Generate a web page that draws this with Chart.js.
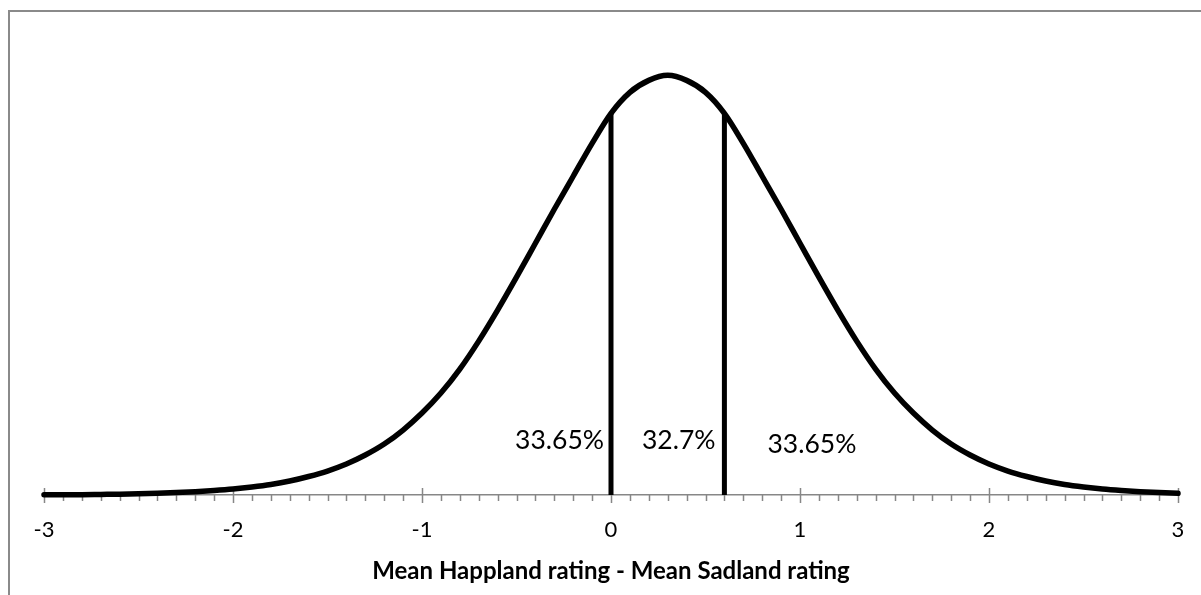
<!DOCTYPE html>
<html>
<head>
<meta charset="utf-8">
<script src="https://cdn.jsdelivr.net/npm/chart.js@4/dist/chart.umd.min.js"></script>
<style>
  html, body { margin: 0; padding: 0; background: #fff; overflow: hidden; }
  #wrap { position: relative; width: 1201px; height: 595px; }
  /* Excel style frame, only top and left edges show in the picture */
  #frame { position: absolute; left: 8px; top: 10px; width: 1300px; height: 700px;
           border-left: 2px solid #8a8a8a; border-top: 2px solid #8a8a8a; }
  canvas { position: absolute; left: 0; top: 0; }
</style>
</head>
<body>
<div id="wrap">
  <div id="frame"></div>
  <canvas id="myChart" width="1201" height="595"></canvas>
</div>
<script>
// x positions of the curve (difference in mean ratings)
var xValues = [-3.0, -2.9, -2.8, -2.7, -2.6, -2.5, -2.4, -2.3, -2.2, -2.1,
               -2.0, -1.9, -1.8, -1.7, -1.6, -1.5, -1.4, -1.3, -1.2, -1.1,
               -1.0, -0.9, -0.8, -0.7, -0.6, -0.5, -0.4, -0.3, -0.2, -0.1,
                0.0,  0.1,  0.2,  0.3,  0.4,  0.5,  0.6,  0.7,  0.8,  0.9,
                1.0,  1.1,  1.2,  1.3,  1.4,  1.5,  1.6,  1.7,  1.8,  1.9,
                2.0,  2.1,  2.2,  2.3,  2.4,  2.5,  2.6,  2.7,  2.8,  2.9, 3.0];

// curve height (density)
var density = [0.0003, 0.0004, 0.0005, 0.0008, 0.0011, 0.0016, 0.0023, 0.0032, 0.0044, 0.0060,
               0.0080, 0.0107, 0.0141, 0.0187, 0.0248, 0.0321, 0.0415, 0.0535, 0.0682, 0.0870,
               0.1097, 0.1365, 0.1686, 0.2061, 0.2476, 0.2917, 0.3372, 0.3827, 0.4269, 0.4710,
               0.5112, 0.5393, 0.5553, 0.5620, 0.5553, 0.5393, 0.5112, 0.4710, 0.4269, 0.3827,
               0.3372, 0.2917, 0.2476, 0.2061, 0.1686, 0.1365, 0.1097, 0.0870, 0.0682, 0.0535,
               0.0415, 0.0321, 0.0248, 0.0187, 0.0141, 0.0107, 0.0080, 0.0060, 0.0044, 0.0032, 0.0023];

// vertical cut lines and the share of the area in each part
var cutPoints = [0, 0.6];
var shareLabels = ['33.65%', '32.7%', '33.65%'];

// x axis ticks
var xMin = -3, xMax = 3, majorStep = 1, minorStep = 0.1;
var axisTitle = 'Mean Happland rating - Mean Sadland rating';

var FONT = 'Lato, "Open Sans", sans-serif';

// curve points
var curvePoints = xValues.map(function (x, i) { return { x: x, y: density[i] }; });

function heightAt(x) {
    var i = xValues.findIndex(function (v) { return Math.abs(v - x) < 1e-9; });
    return density[i];
}

var cutDatasets = cutPoints.map(function (c) {
    return {
        data: [{ x: c, y: 0 }, { x: c, y: heightAt(c) }],
        borderColor: '#000',
        borderWidth: 5,
        pointRadius: 0,
        borderCapStyle: 'butt',
        clip: false
    };
});

// axis ticks: major ticks cross the line, minor ticks hang below
var axisTicks = {
    id: 'axisTicks',
    beforeDatasetsDraw: function (chart) {
        var ctx = chart.ctx;
        var xs = chart.scales.x;
        var y0 = chart.chartArea.bottom;
        ctx.save();
        ctx.strokeStyle = '#878787';
        ctx.lineWidth = 1.5;
        var n = Math.round((xMax - xMin) / minorStep);
        for (var i = 0; i <= n; i++) {
            var v = xMin + i * minorStep;
            var px = Math.round(xs.getPixelForValue(v)) + 0.5;
            var major = (i % Math.round(majorStep / minorStep)) === 0;
            ctx.beginPath();
            ctx.moveTo(px, major ? y0 - 7 : y0);
            ctx.lineTo(px, major ? y0 + 8 : y0 + 6);
            ctx.stroke();
        }
        ctx.restore();
    }
};

// percentage labels in the three parts
var shareText = {
    id: 'shareText',
    afterDatasetsDraw: function (chart) {
        var ctx = chart.ctx;
        var xs = chart.scales.x;
        var p0 = xs.getPixelForValue(cutPoints[0]);
        var p1 = xs.getPixelForValue(cutPoints[1]);
        ctx.save();
        ctx.fillStyle = '#000';
        ctx.font = '26.5px ' + FONT;
        ctx.textBaseline = 'middle';
        ctx.textAlign = 'right';
        ctx.fillText(shareLabels[0], p0 - 7, 440);
        ctx.textAlign = 'center';
        ctx.fillText(shareLabels[1], (p0 + p1) / 2 + 11, 440);
        ctx.textAlign = 'left';
        ctx.fillText(shareLabels[2], p1 + 43, 444);
        ctx.restore();
    }
};

var ctx = document.getElementById('myChart');
var chart = new Chart(ctx, {
    type: 'line',
    data: {
        datasets: [{
            data: curvePoints,
            borderColor: '#000',
            borderWidth: 5.5,
            pointRadius: 0,
            cubicInterpolationMode: 'monotone',
            borderCapStyle: 'round',
            clip: false
        }].concat(cutDatasets)
    },
    options: {
        responsive: false,
        animation: false,
        layout: { padding: { left: 44, right: 23, top: 47, bottom: 0 } },
        plugins: {
            legend: { display: false },
            tooltip: { enabled: false }
        },
        scales: {
            x: {
                type: 'linear',
                min: xMin,
                max: xMax,
                grid: { display: false },
                border: { display: true, color: '#878787', width: 1.5 },
                ticks: {
                    stepSize: majorStep,
                    color: '#000',
                    padding: 14,
                    maxRotation: 0,
                    font: { family: FONT, size: 22 }
                },
                title: {
                    display: true,
                    text: axisTitle,
                    color: '#000',
                    font: { family: FONT, size: 24, weight: 'bold' },
                    padding: { top: 0, bottom: 9 }
                },
                afterFit: function (axis) { axis.height = 100; }
            },
            y: {
                display: false,
                min: 0,
                max: 0.6
            }
        }
    },
    plugins: [axisTicks, shareText]
});
</script>
</body>
</html>
